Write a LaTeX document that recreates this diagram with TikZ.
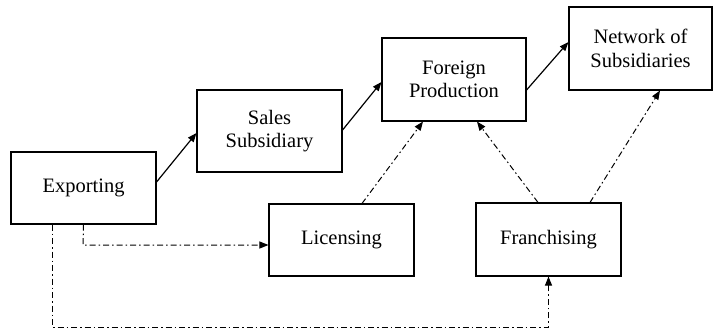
\documentclass[tikz,border=0pt]{standalone}
\usepackage{fontspec}
\setmainfont{Liberation Serif}
\usetikzlibrary{arrows.meta}
\tikzset{
  box/.style={draw, line width=1.1pt, inner sep=0pt, align=center,
    font=\fontsize{20.5}{23.5}\selectfont},
  solidarrow/.style={line width=1.2pt, -{Triangle[length=9pt,width=7pt]}},
  dd/.style={line width=1pt, dash pattern=on 6pt off 3pt on 1.5pt off 3pt},
  ddarrow/.style={dd, -{Triangle[length=9pt,width=7pt]}}
}
\begin{document}
\begin{tikzpicture}[x=1pt,y=-1pt]
\useasboundingbox (0,0) rectangle (714,333);
\node[box, minimum width=145pt, minimum height=72pt] (exp) at (83.5,188) {Exporting};
\node[box, minimum width=145pt, minimum height=82pt] (sal) at (269.5,131) {Sales\\Subsidiary};
\node[box, minimum width=144pt, minimum height=83pt] (for) at (454,79.5) {Foreign\\Production};
\node[box, minimum width=143pt, minimum height=83pt] (net) at (640.5,48.5) {Network of\\Subsidiaries};
\node[box, minimum width=145pt, minimum height=72pt] (lic) at (341.5,240) {Licensing};
\node[box, minimum width=145pt, minimum height=73pt] (fra) at (548.5,239.5) {Franchising};
% solid arrows
\draw[solidarrow] ([yshift=6pt]exp.east) -- ([yshift=-2pt]sal.west);
\draw[solidarrow] ([yshift=1pt]sal.east) -- ([yshift=-2.5pt]for.west);
\draw[solidarrow] ([yshift=-10.5pt]for.east) -- ([yshift=6.5pt]net.west);
% dash-dot arrows
\coordinate (b1) at (83,245);
\draw[ddarrow] (exp.south) -- (b1) -- (lic.west |- b1);
\coordinate (b2) at (52,327);
\coordinate (b3) at (548.5,327);
\draw[ddarrow] (exp.south -| b2) -- (b2) -- (b3) -- (fra.south);
\draw[ddarrow] ([xshift=20.5pt]lic.north) -- ([xshift=-31pt]for.south);
\draw[ddarrow] ([xshift=-10.5pt]fra.north) -- ([xshift=23pt]for.south);
\draw[ddarrow] ([xshift=41.5pt]fra.north) -- ([xshift=19.5pt]net.south);
\end{tikzpicture}
\end{document}
